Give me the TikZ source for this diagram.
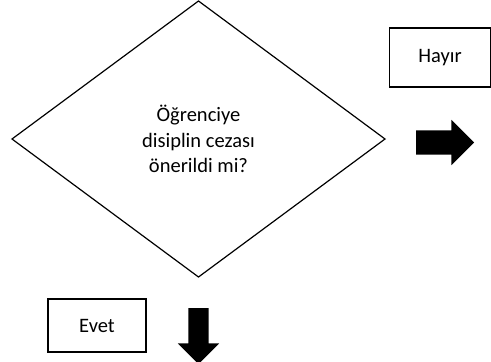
\documentclass[tikz,border=0pt]{standalone}
\usepackage{fontspec}
\setmainfont{Carlito}
\usetikzlibrary{shapes.geometric,shapes.arrows}
\tikzset{
	kutu/.style={draw, line width=1.6pt, inner sep=0pt, outer sep=0pt, font=\fontsize{20.5}{25}\selectfont},
	ok/.style={single arrow, fill=black, draw=none, outer sep=0pt, single arrow head extend=10.5pt, single arrow tip angle=90}
}
\begin{document}
\begin{tikzpicture}[x=1pt,y=-1pt]
		\useasboundingbox (0,0) rectangle (491,362);
		\node [diamond, draw, line width=1.2pt, inner sep=0pt, outer sep=0pt, minimum width=373pt, minimum height=276pt, align=center, font=\fontsize{20.5}{25.5}\selectfont](Soru)at (198.5,139) {Öğrenciye\\disiplin cezası\\önerildi mi?};
		\node [kutu, minimum width=101pt, minimum height=59pt](Hayir)at (440,57.5) {Hayır};
		\node [kutu, minimum width=98pt, minimum height=53pt](Evet)at (97,325.5) {Evet};
		\node [ok, inner sep=12pt, minimum height=58pt](OkSag)at (439,142.5) {};
		\node [ok, inner sep=10pt, minimum height=56pt, shape border rotate=270](OkAsagi)at (198.5,331) {};
	\end{tikzpicture}
\end{document}
